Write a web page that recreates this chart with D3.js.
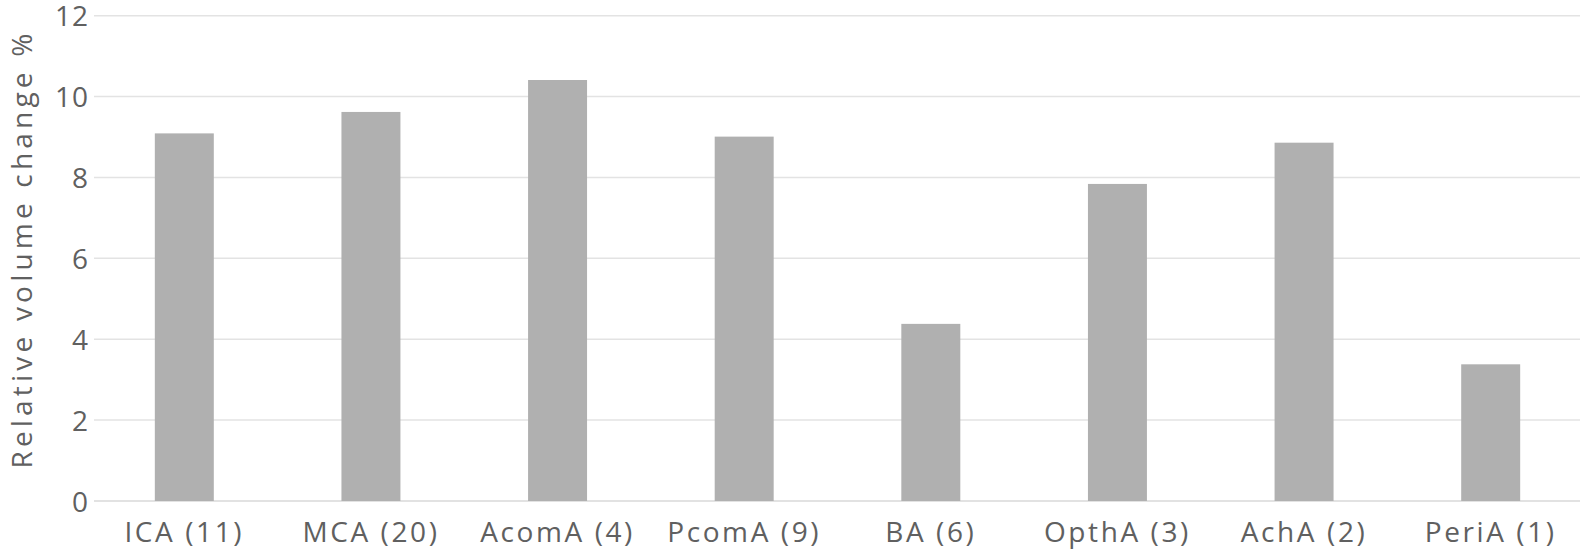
<!DOCTYPE html>
<html>
<head>
<meta charset="utf-8">
<script src="https://cdn.jsdelivr.net/npm/d3@7"></script>
<style>
  html, body { margin: 0; padding: 0; background: #fff; }
  svg { display: block; }
  text { font-family: "Open Sans", Lato, sans-serif; fill: #606060; }
</style>
</head>
<body>
<svg id="chart" width="1586" height="559"></svg>
<script>
const categories = ["ICA (11)", "MCA (20)", "AcomA (4)", "PcomA (9)", "BA (6)", "OpthA (3)", "AchA (2)", "PeriA (1)"];
const values = [9.09, 9.62, 10.41, 9.01, 4.38, 7.84, 8.86, 3.38];
const yTicks = [0, 2, 4, 6, 8, 10, 12];
const yTitle = "Relative volume change %";

const svg = d3.select("#chart");
const x = d3.scaleBand().domain(categories).range([91, 1584]).paddingInner(0.684).paddingOuter(0.342);
const y = d3.scaleLinear().domain([0, 12]).range([501, 15.7]);

// gridlines
svg.append("g")
  .selectAll("line")
  .data(yTicks)
  .join("line")
  .attr("x1", 94).attr("x2", 1580)
  .attr("y1", d => y(d)).attr("y2", d => y(d))
  .attr("stroke", d => d === 0 ? "#d9d9d9" : "#e3e3e3")
  .attr("stroke-width", 1.5);

// bars
svg.append("g")
  .selectAll("rect")
  .data(values)
  .join("rect")
  .attr("x", (d, i) => x(categories[i]))
  .attr("width", x.bandwidth())
  .attr("y", d => y(d))
  .attr("height", d => y(0) - y(d))
  .attr("fill", "#b0b0b0");

// y axis labels
const yAxis = d3.axisLeft(y).tickValues(yTicks).tickSize(0).tickPadding(0);
const gy = svg.append("g").attr("transform", "translate(89,0)").call(yAxis);
gy.select(".domain").remove();
gy.selectAll("text")
  .style("font-size", "28px").style("font-family", "'Open Sans', sans-serif")
  .style("letter-spacing", "1px")
  .attr("fill", "#606060").attr("dy", "0.36em");

// x axis labels
const xAxis = d3.axisBottom(x).tickSize(0).tickPadding(0);
const gx = svg.append("g").call(xAxis);
gx.select(".domain").remove();
gx.selectAll(".tick").attr("transform", d => `translate(${x(d) + x.bandwidth() / 2},0)`);
gx.selectAll("text")
  .attr("y", 542).attr("dy", null)
  .style("font-size", "28px").style("font-family", "'Open Sans', sans-serif")
  .style("letter-spacing", "2.6px")
  .attr("fill", "#606060");

// y title
svg.append("text")
  .attr("transform", "translate(32,249) rotate(-90)")
  .attr("text-anchor", "middle")
  .style("font-size", "28px")
  .style("letter-spacing", "4.2px")
  .text(yTitle);
</script>
</body>
</html>
